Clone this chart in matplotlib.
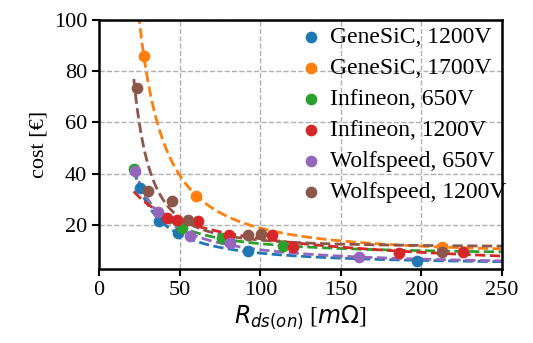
import numpy as np
import matplotlib
matplotlib.use("Agg")
import matplotlib.pyplot as plt

plt.rcParams['font.family'] = ['Liberation Serif', 'DejaVu Serif']
plt.rcParams['font.size'] = 16

# (R_ds(on) in mOhm, cost in EUR)
labels = ['GeneSiC, 1200V', 'GeneSiC, 1700V', 'Infineon, 650V',
          'Infineon, 1200V', 'Wolfspeed, 650V', 'Wolfspeed, 1200V']

genesic_1200_r = [25.4, 37.2, 49.2, 92.6, 197]
genesic_1200_c = [34.5, 21.5, 16.8, 10.0, 6.2]

genesic_1700_r = [27.7, 60.4, 213]
genesic_1700_c = [86.0, 31.5, 11.5]

infineon_650_r = [21.5, 51.3, 76.0, 114.0]
infineon_650_c = [42.0, 19.0, 15.0, 12.0]

infineon_1200_r = [42.0, 48.5, 61.6, 80.5, 107.0, 120.0, 186.0, 225.6]
infineon_1200_c = [22.8, 22.0, 21.8, 16.3, 16.0, 11.5, 9.2, 9.5]

wolfspeed_650_r = [22.3, 36.6, 56.5, 81.3, 161.5]
wolfspeed_650_c = [41.0, 25.2, 15.7, 13.1, 7.5]

wolfspeed_1200_r = [23.8, 30.5, 45.5, 55.4, 92.6, 100.3, 213]
wolfspeed_1200_c = [73.5, 33.3, 29.3, 22.0, 16.3, 16.7, 9.5]

series = [(genesic_1200_r, genesic_1200_c), (genesic_1700_r, genesic_1700_c),
          (infineon_650_r, infineon_650_c), (infineon_1200_r, infineon_1200_c),
          (wolfspeed_650_r, wolfspeed_650_c), (wolfspeed_1200_r, wolfspeed_1200_c)]


def fit_power(x, y):
    # y = a * x^b + c, brute force over b
    x = np.asarray(x, float)
    y = np.asarray(y, float)
    w = 1.0 / np.sqrt(y)
    best = None
    for b in np.linspace(-5, -0.2, 600):
        A = np.column_stack([x ** b, np.ones_like(x)])
        coef = np.linalg.lstsq(A * w[:, None], y * w, rcond=None)[0]
        err = np.sum(((A @ coef - y) * w) ** 2)
        if best is None or err < best[0]:
            best = (err, coef[0], b, coef[1])
    return best[1:]


colors = plt.cm.tab10.colors
xmin = min(min(r) for r, c in series)
xs = np.linspace(xmin, 250, 400)

fig, ax = plt.subplots(figsize=(5.33, 3.43), dpi=100)
fig.subplots_adjust(left=0.186, right=0.942, top=0.943, bottom=0.216)

for i, (r, c) in enumerate(series):
    a, b, k = fit_power(r, c)
    ax.plot(xs, a * xs ** b + k, '--', color=colors[i], lw=2, zorder=2)
    ax.scatter(r, c, s=55, color=colors[i], label=labels[i], zorder=3)

ax.set_xlim(0, 250)
ax.set_ylim(3, 100)
ax.set_xticks([0, 50, 100, 150, 200, 250])
ax.set_yticks([20, 40, 60, 80, 100])
ax.grid(True, linestyle='--', color='#b0b0b0', lw=1)
ax.set_axisbelow(True)
for s in ax.spines.values():
    s.set_linewidth(1.8)
ax.tick_params(width=1.5, length=5, labelsize=16)

ax.set_xlabel(r'$R_{ds(on)}$ [$m\Omega$]', fontsize=17, labelpad=3)
ax.set_ylabel('cost [€]', fontsize=16)
ax.legend(loc='upper right', bbox_to_anchor=(1.04, 1.02), frameon=False,
          handlelength=0.8, handletextpad=0.4, borderaxespad=0.1,
          labelspacing=0.4, fontsize=17)

fig.savefig('out.png', dpi=100)
